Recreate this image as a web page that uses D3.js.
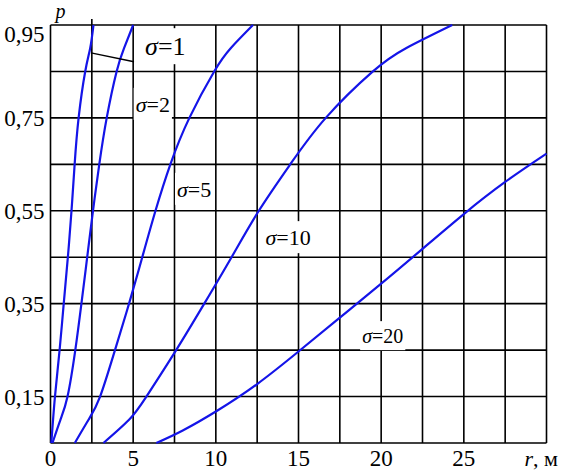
<!DOCTYPE html>
<html>
<head>
<meta charset="utf-8">
<script src="https://cdn.jsdelivr.net/npm/d3@7"></script>
<style>
  body { margin: 0; background: #fff; }
  svg { display: block; font-family: "Liberation Serif", "Times New Roman", serif; }
  .grid line { stroke: #000; stroke-width: 1.6; }
  .curve { fill: none; stroke: #1414e8; stroke-width: 2.2; }
  .label-box { fill: #fff; }
</style>
</head>
<body>
<div id="chart"></div>
<script>
// Data: [r (м), p]
const sigma1 = [[0.05, 0.05], [0.27, 0.15], [0.55, 0.25], [0.8, 0.35], [1.05, 0.45], [1.27, 0.55], [1.46, 0.65], [1.7, 0.75], [2.1, 0.85], [2.4, 0.9], [2.6, 0.95]];
const sigma2 = [[0.12, 0.05], [0.6, 0.1], [1.03, 0.15], [1.5, 0.25], [1.87, 0.35], [2.22, 0.45], [2.57, 0.55], [2.95, 0.65], [3.4, 0.75], [4.0, 0.85], [4.45, 0.9], [5.0, 0.95]];
const sigma5 = [[1.47, 0.05], [2.3, 0.1], [3.0, 0.15], [3.9, 0.25], [4.75, 0.35], [5.55, 0.45], [6.35, 0.55], [7.25, 0.65], [8.4, 0.75], [9.9, 0.85], [10.9, 0.9], [12.25, 0.95]];
const sigma10 = [[3.2, 0.05], [4.75, 0.1], [5.8, 0.15], [7.6, 0.25], [9.3, 0.35], [10.95, 0.45], [12.6, 0.55], [14.5, 0.65], [16.65, 0.75], [19.5, 0.85], [21.5, 0.9], [24.3, 0.95]];
const sigma20 = [[6.4, 0.05], [8.0, 0.077], [10.1, 0.12], [12.5, 0.177], [15, 0.247], [17.5, 0.32], [20, 0.393], [22.5, 0.468], [25, 0.543], [27.5, 0.612], [30, 0.673]];

const seriesNames = ["σ=1", "σ=2", "σ=5", "σ=10", "σ=20"];
const seriesValues = [sigma1, sigma2, sigma5, sigma10, sigma20];
// label anchor [r, p] and font size
const labelPos = [[5.72, 0.885], [5.15, 0.763], [7.65, 0.58], [13.0, 0.476], [18.85, 0.265]];
const labelSize = [26, 22, 22, 22, 20];
const leader = [[2.45, 0.89], [5.05, 0.871]];

const xTicks = [0, 5, 10, 15, 20, 25];
const xTickLabels = ["0", "5", "10", "15", "20", "25"];
const yTicks = [0.15, 0.35, 0.55, 0.75, 0.95];
const yTickLabels = ["0,15", "0,35", "0,55", "0,75", "0,95"];
const xGrid = d3.range(0, 30.01, 2.5);
const yGrid = d3.range(0.05, 0.96, 0.1);

// Set up
const svgWidth = 566, svgHeight = 472;
const margin = { top: 25, right: 19.5, bottom: 29, left: 50.5 };
const width = svgWidth - margin.left - margin.right;
const height = svgHeight - margin.top - margin.bottom;

const svg = d3.select("#chart").append("svg")
  .attr("width", svgWidth)
  .attr("height", svgHeight);
const g = svg.append("g")
  .attr("transform", `translate(${margin.left},${margin.top})`);

// Scales
const xScale = d3.scaleLinear().domain([0, 30]).range([0, width]);
const yScale = d3.scaleLinear().domain([0.05, 0.95]).range([height, 0]);

// Grid
const gGrid = g.append("g").attr("class", "grid");
gGrid.selectAll(".v")
  .data(xGrid)
  .join("line")
  .attr("class", "v")
  .attr("x1", (d) => xScale(d)).attr("x2", (d) => xScale(d))
  .attr("y1", 0).attr("y2", height);
gGrid.selectAll(".h")
  .data(yGrid)
  .join("line")
  .attr("class", "h")
  .attr("x1", 0).attr("x2", width)
  .attr("y1", (d) => yScale(d)).attr("y2", (d) => yScale(d));
// small overshoot of the 2.5 line above the frame
gGrid.append("line")
  .attr("x1", xScale(2.5)).attr("x2", xScale(2.5))
  .attr("y1", -6).attr("y2", 0);

// Labels with white boxes over the grid
const gLabels = g.append("g").attr("class", "labels");
seriesNames.forEach((name, i) => {
  const lg = gLabels.append("g");
  const box = lg.append("rect").attr("class", "label-box");
  const t = lg.append("text")
    .attr("x", xScale(labelPos[i][0]))
    .attr("y", yScale(labelPos[i][1]))
    .attr("font-size", labelSize[i]);
  t.append("tspan").attr("font-style", "italic").text(name.slice(0, 1));
  t.append("tspan").text(name.slice(1));
  const bb = t.node().getBBox();
  const y0 = Math.max(0, bb.y - 4);
  box.attr("x", bb.x - 2).attr("y", y0)
    .attr("width", bb.width + 4).attr("height", bb.y + bb.height + 3 - y0);
});

// Curves
const line = d3.line()
  .x((d) => xScale(d[0]))
  .y((d) => yScale(d[1]))
  .curve(d3.curveNatural);
g.append("g")
  .selectAll(".curve")
  .data(seriesValues)
  .join("path")
  .attr("class", "curve")
  .attr("d", (d) => line(d));

// Leader for σ=1
g.append("line")
  .attr("x1", xScale(leader[0][0])).attr("y1", yScale(leader[0][1]))
  .attr("x2", xScale(leader[1][0])).attr("y2", yScale(leader[1][1]))
  .attr("stroke", "#000").attr("stroke-width", 1.5);

// Axes text
g.append("g")
  .selectAll("text")
  .data(xTicks)
  .join("text")
  .attr("x", (d) => xScale(d))
  .attr("y", height + 23)
  .attr("text-anchor", "middle")
  .attr("font-size", 23)
  .text((d, i) => xTickLabels[i]);

g.append("g")
  .selectAll("text")
  .data(yTicks)
  .join("text")
  .attr("x", -6)
  .attr("y", (d) => yScale(d) + (d === 0.95 ? 17 : 8))
  .attr("text-anchor", "end")
  .attr("font-size", 23)
  .text((d, i) => yTickLabels[i]);

g.append("text")
  .attr("x", 5)
  .attr("y", -7.5)
  .attr("font-size", 20)
  .attr("font-style", "italic")
  .text("p");

const rTitle = g.append("text")
  .attr("x", width - 22)
  .attr("y", height + 23)
  .attr("font-size", 22);
rTitle.append("tspan").attr("font-style", "italic").text("r");
rTitle.append("tspan").text(", м");
</script>
</body>
</html>
